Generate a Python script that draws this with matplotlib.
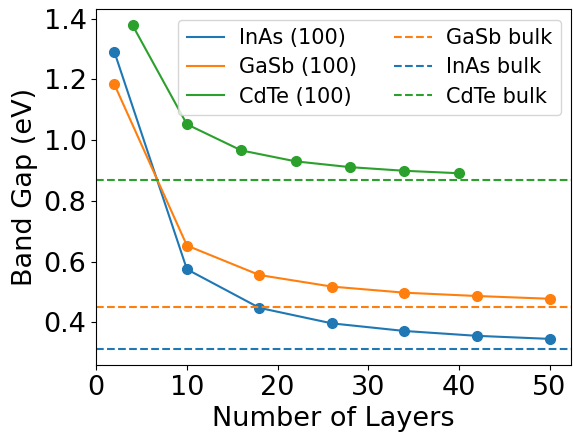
import matplotlib
matplotlib.use("Agg")
import matplotlib.pyplot as plt

layers_iii_v = [2, 10, 18, 26, 34, 42, 50]
layers_cdte  = [4, 10, 16, 22, 28, 34, 40]

gap_inas = [1.290, 0.575, 0.448, 0.397, 0.372, 0.356, 0.346]
gap_gasb = [1.183, 0.653, 0.556, 0.518, 0.498, 0.487, 0.478]
gap_cdte = [1.378, 1.052, 0.966, 0.930, 0.911, 0.899, 0.891]

bulk_gasb = 0.450
bulk_inas = 0.313
bulk_cdte = 0.870

C_BLUE, C_ORANGE, C_GREEN = "#1f77b4", "#ff7f0e", "#2ca02c"

fig, ax = plt.subplots(figsize=(5.73, 4.33), dpi=100)
fig.subplots_adjust(left=0.168, right=0.997, bottom=0.157, top=0.979)

# lines carry the legend labels, markers drawn separately
ax.plot(layers_iii_v, gap_inas, color=C_BLUE, label="InAs (100)")
ax.plot(layers_iii_v, gap_gasb, color=C_ORANGE, label="GaSb (100)")
ax.plot(layers_cdte, gap_cdte, color=C_GREEN, label="CdTe (100)")
ax.plot(layers_iii_v, gap_inas, "o", color=C_BLUE, ms=7)
ax.plot(layers_iii_v, gap_gasb, "o", color=C_ORANGE, ms=7)
ax.plot(layers_cdte, gap_cdte, "o", color=C_GREEN, ms=7)

ax.axhline(bulk_gasb, color=C_ORANGE, ls="--", label="GaSb bulk")
ax.axhline(bulk_inas, color=C_BLUE, ls="--", label="InAs bulk")
ax.axhline(bulk_cdte, color=C_GREEN, ls="--", label="CdTe bulk")

ax.set_xlim(0, 52.4)
ax.set_ylim(0.26, 1.431)
ax.set_xticks([0, 10, 20, 30, 40, 50])
ax.set_yticks([0.4, 0.6, 0.8, 1.0, 1.2, 1.4])
ax.tick_params(labelsize=19.5)
ax.set_xlabel("Number of Layers", fontsize=19.5)
ax.set_ylabel("Band Gap (eV)", fontsize=19.5)
ax.legend(ncol=2, fontsize=15, loc="upper right", handlelength=1.8,
          columnspacing=1.8, handletextpad=0.7, labelspacing=0.45)

fig.savefig("out.png", dpi=100)
